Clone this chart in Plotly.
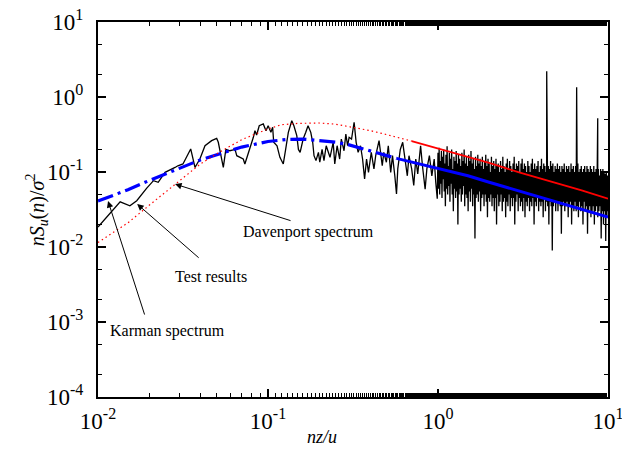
import numpy as np
import plotly.graph_objects as go

# ---------------- data ----------------
# Test results: low-frequency part (individual vertices)
test_lo_x = [0.01, 0.0135, 0.0154, 0.0169, 0.0193, 0.0212, 0.0226, 0.0248, 0.0284, 0.0295,
             0.0316, 0.0351, 0.0372, 0.0398, 0.0426, 0.0466, 0.0499, 0.051, 0.0546, 0.0565,
             0.0597, 0.064, 0.0655, 0.0685, 0.0715, 0.0731, 0.0765, 0.0801, 0.082, 0.0838,
             0.0857, 0.0888, 0.0938, 0.0973, 0.1002, 0.104, 0.1065, 0.108, 0.113, 0.1175,
             0.123, 0.127, 0.1317, 0.138, 0.142, 0.1477, 0.151, 0.1545, 0.161, 0.1668,
             0.172, 0.1785, 0.1832, 0.1865, 0.1915, 0.198, 0.2017, 0.208, 0.2134, 0.22,
             0.2316, 0.2418, 0.247, 0.255, 0.264, 0.27, 0.28, 0.287, 0.294, 0.30,
             0.31, 0.321, 0.33, 0.339, 0.35, 0.36, 0.37, 0.38, 0.39, 0.405,
             0.42, 0.43, 0.45, 0.47, 0.48, 0.497, 0.51, 0.527, 0.54, 0.557,
             0.57, 0.58, 0.60, 0.62, 0.64, 0.66, 0.675, 0.70, 0.72, 0.74,
             0.76, 0.79, 0.81, 0.84, 0.86, 0.89, 0.92, 0.95, 0.97, 0.99]
test_lo_y = [0.0185, 0.040, 0.0355, 0.0414, 0.0605, 0.0766, 0.0728, 0.099, 0.115, 0.121,
             0.128, 0.203, 0.115, 0.15, 0.224, 0.262, 0.281, 0.249, 0.115, 0.2,
             0.192, 0.2, 0.165, 0.157, 0.149, 0.128, 0.174, 0.249, 0.29, 0.355,
             0.311, 0.414, 0.437, 0.355, 0.414, 0.338, 0.395, 0.249, 0.224, 0.157,
             0.128, 0.2, 0.338, 0.483, 0.414, 0.305, 0.2, 0.183, 0.275, 0.338,
             0.414, 0.338, 0.249, 0.165, 0.142, 0.183, 0.135, 0.2, 0.142, 0.224,
             0.157, 0.249, 0.128, 0.224, 0.149, 0.275, 0.192, 0.32, 0.224, 0.29,
             0.275, 0.46, 0.249, 0.183, 0.224, 0.149, 0.081, 0.149, 0.099, 0.183,
             0.11, 0.165, 0.262, 0.121, 0.183, 0.135, 0.224, 0.099, 0.165, 0.089,
             0.051, 0.11, 0.2, 0.249, 0.149, 0.089, 0.165, 0.11, 0.066, 0.149,
             0.094, 0.224, 0.121, 0.059, 0.11, 0.165, 0.089, 0.149, 0.073, 0.044]

# Test results: dense high-frequency part (1 .. 10), read as alternating band values
test_hf_start, test_hf_end = 1.0, 10.0
test_hf_y = [
    0.18, 0.06, 0.21, 0.05, 0.14, 0.07, 0.19, 0.045, 0.16, 0.08,
    0.20, 0.055, 0.13, 0.035, 0.17, 0.06, 0.22, 0.05, 0.12, 0.065,
    0.18, 0.04, 0.15, 0.07, 0.20, 0.05, 0.11, 0.03, 0.16, 0.06,
    0.14, 0.045, 0.19, 0.055, 0.13, 0.02, 0.17, 0.05, 0.15, 0.06,
    0.12, 0.04, 0.18, 0.05, 0.14, 0.065, 0.20, 0.035, 0.13, 0.05,
    0.16, 0.045, 0.12, 0.03, 0.17, 0.055, 0.14, 0.04, 0.19, 0.06,
    0.13, 0.035, 0.15, 0.05, 0.11, 0.013, 0.16, 0.045, 0.12, 0.05,
    0.17, 0.04, 0.13, 0.055, 0.15, 0.03, 0.12, 0.045, 0.16, 0.05,
    0.11, 0.035, 0.14, 0.05, 0.17, 0.04, 0.12, 0.025, 0.15, 0.045,
    0.13, 0.04, 0.10, 0.05, 0.16, 0.035, 0.12, 0.045, 0.14, 0.03,
    0.11, 0.045, 0.15, 0.02, 0.12, 0.05, 0.13, 0.035, 0.10, 0.04,
    0.14, 0.05, 0.11, 0.03, 0.16, 0.04, 0.12, 0.045, 0.10, 0.025,
    0.13, 0.04, 0.15, 0.035, 0.11, 0.05, 0.14, 0.03, 0.12, 0.045,
    0.10, 0.035, 0.13, 0.045, 0.16, 0.02, 0.11, 0.04, 0.13, 0.05,
    0.12, 0.03, 0.14, 0.045, 0.10, 0.035, 0.13, 0.04, 0.15, 0.03,
    0.11, 0.045, 0.13, 0.025, 0.12, 0.04, 0.10, 0.035, 0.14, 0.045,
    0.12, 0.03, 0.10, 0.04, 0.13, 0.035, 0.15, 0.045, 0.11, 0.02,
    0.13, 0.04, 0.11, 0.035, 0.12, 0.045, 0.14, 0.03, 0.10, 0.04,
    0.12, 0.035, 0.15, 0.04, 0.11, 0.025, 0.13, 0.045, 0.12, 0.03,
    0.10, 0.04, 0.13, 0.035, 0.12, 0.02, 0.11, 0.04, 0.14, 0.035,
    0.12, 0.009, 0.13, 0.035, 0.10, 0.04, 0.12, 0.03, 0.11, 0.04,
    0.13, 0.03, 0.11, 0.04, 0.12, 0.035, 0.10, 0.015, 0.12, 0.035,
    0.11, 0.04, 0.13, 0.03, 0.10, 0.035, 0.12, 0.04, 0.11, 0.025,
    0.12, 0.035, 0.10, 0.04, 0.13, 0.02, 0.11, 0.035, 0.12, 0.03,
    0.10, 0.04, 0.12, 0.03, 0.11, 0.035, 0.13, 0.025, 0.10, 0.04,
    0.11, 0.03, 0.12, 0.035, 0.10, 0.02, 0.11, 0.04, 0.12, 0.03,
    0.10, 0.035, 0.12, 0.015, 0.11, 0.03, 0.10, 0.035, 0.12, 0.025,
    0.11, 0.03, 0.10, 0.035, 0.12, 0.02, 0.10, 0.03, 0.11, 0.035,
    0.10, 0.025, 0.11, 0.03, 0.09, 0.035, 0.11, 0.013, 0.10, 0.03,
    0.11, 0.02, 0.10, 0.03, 0.095, 0.012, 0.10, 0.025, 0.09, 0.03,
]
# isolated spectral peaks
spike_x = [4.36, 6.54, 8.7]
spike_y = [2.2, 1.35, 0.52]

# Karman spectrum
karman_x = [0.01, 0.012, 0.015, 0.02, 0.03, 0.04, 0.05, 0.07, 0.1, 0.13, 0.16, 0.2,
            0.25, 0.3, 0.4, 0.57, 0.7, 1.0, 1.5, 2.0, 3.0, 5.0, 7.0, 10.0]
karman_y = [0.041, 0.048, 0.058, 0.077, 0.11, 0.145, 0.17, 0.215, 0.255, 0.272, 0.275, 0.265,
            0.25, 0.23, 0.19, 0.152, 0.135, 0.112, 0.089, 0.073, 0.056, 0.040, 0.032, 0.025]
karman_split = 0.57

# Davenport spectrum
dav_x = [0.01, 0.015, 0.02, 0.03, 0.04, 0.05, 0.07, 0.1, 0.12, 0.15, 0.2, 0.25, 0.3,
         0.4, 0.5, 0.7, 1.0, 1.5, 2.0, 3.0, 5.0, 7.0, 10.0]
dav_y = [0.0115, 0.021, 0.036, 0.076, 0.128, 0.175, 0.27, 0.375, 0.427, 0.445, 0.45, 0.434, 0.405,
         0.356, 0.315, 0.258, 0.207, 0.16, 0.132, 0.099, 0.071, 0.057, 0.044]
dav_split = 0.7

x_ticks = [0.01, 0.1, 1, 10]
x_ticktext = ["10<sup>-2</sup>", "10<sup>-1</sup>", "10<sup>0</sup>", "10<sup>1</sup>"]
y_ticks = [1e-4, 1e-3, 1e-2, 1e-1, 1, 10]
y_ticktext = ["10<sup>-4</sup>", "10<sup>-3</sup>", "10<sup>-2</sup>", "10<sup>-1</sup>",
              "10<sup>0</sup>", "10<sup>1</sup>"]

# ---------------- build series ----------------
hf_x = np.geomspace(test_hf_start, test_hf_end, len(test_hf_y))
all_x = np.concatenate([test_lo_x, hf_x, spike_x])
all_y = np.concatenate([test_lo_y, test_hf_y, spike_y])
order = np.argsort(all_x, kind="stable")
test_x = all_x[order]
test_y = all_y[order]

kx = np.array(karman_x); ky = np.array(karman_y)
dx = np.array(dav_x); dy = np.array(dav_y)
k1 = kx <= karman_split
k2 = kx >= karman_split
d1 = dx <= dav_split
d2 = dx >= dav_split

FONT = "Liberation Serif, Times New Roman, serif"

fig = go.Figure()
fig.add_trace(go.Scatter(x=test_x, y=test_y, mode="lines",
                         line=dict(color="black", width=1.3), name="Test results"))
fig.add_trace(go.Scatter(x=kx[k1], y=ky[k1], mode="lines",
                         line=dict(color="#0000ff", width=3.2, dash="16px,5px,3px,5px"),
                         name="Karman spectrum"))
fig.add_trace(go.Scatter(x=kx[k2], y=ky[k2], mode="lines",
                         line=dict(color="#0000ff", width=3), showlegend=False))
fig.add_trace(go.Scatter(x=dx[d1], y=dy[d1], mode="lines",
                         line=dict(color="#ff0000", width=1.2, dash="1.5px,3px"),
                         name="Davenport spectrum"))
fig.add_trace(go.Scatter(x=dx[d2], y=dy[d2], mode="lines",
                         line=dict(color="#ff0000", width=1.8), showlegend=False))

axis_common = dict(
    type="log", showgrid=False, zeroline=False, automargin=False,
    showline=True, linecolor="black", linewidth=2, mirror="allticks",
    ticks="inside", ticklen=8, tickwidth=1.5, tickcolor="black",
    minor=dict(ticks="inside", ticklen=4, tickwidth=1.2, tickcolor="black", showgrid=False),
    tickfont=dict(family=FONT, size=23, color="black"),
    ticklabeloverflow="allow",
)

fig.update_xaxes(**axis_common, range=[-2, 1], tickvals=x_ticks, ticktext=x_ticktext,
                 ticklabelstandoff=2)
fig.update_yaxes(**axis_common, range=[-4, 1], tickvals=y_ticks, ticktext=y_ticktext,
                 ticklabelstandoff=8)

# axis titles
fig.add_annotation(xref="paper", yref="paper", x=0.44, y=-0.107, text="<i>nz/u</i>",
                   showarrow=False, font=dict(family=FONT, size=18, color="black"),
                   xanchor="center", yanchor="middle")
fig.add_annotation(xref="paper", yref="paper", x=-0.12, y=0.5,
                   text="<i>nS<sub>u</sub></i>(<i>n</i>)/<i>σ</i><sup>2</sup>",
                   textangle=-90, showarrow=False,
                   font=dict(family=FONT, size=20, color="black"),
                   xanchor="center", yanchor="middle")

# annotations: arrows (head at data point, tail offset) and texts
arrows = [
    dict(x=0.0284, y=0.069, ax=117, ay=37),   # Davenport spectrum
    dict(x=0.0170, y=0.0374, ax=63, ay=55),    # Test results
    dict(x=0.01146, y=0.041, ax=37, ay=115),   # Karman spectrum
]
for a in arrows:
    fig.add_annotation(x=np.log10(a["x"]), y=np.log10(a["y"]), ax=a["ax"], ay=a["ay"],
                       text="", showarrow=True, arrowhead=2, arrowsize=1.3,
                       arrowwidth=1, arrowcolor="black", standoff=0, startstandoff=0)

labels = [
    dict(text="Davenport spectrum", x=0.172, y=0.0158),
    dict(text="Test results", x=0.0462, y=0.0040),
    dict(text="Karman spectrum", x=0.0258, y=0.00076),
]
for l in labels:
    fig.add_annotation(x=np.log10(l["x"]), y=np.log10(l["y"]), text=l["text"],
                       showarrow=False, font=dict(family=FONT, size=16, color="black"),
                       xanchor="center", yanchor="middle")

fig.update_layout(
    width=622, height=450,
    margin=dict(l=98, r=14, t=22, b=53),
    paper_bgcolor="white", plot_bgcolor="white",
    showlegend=False,
)

fig.write_html("out.html")
